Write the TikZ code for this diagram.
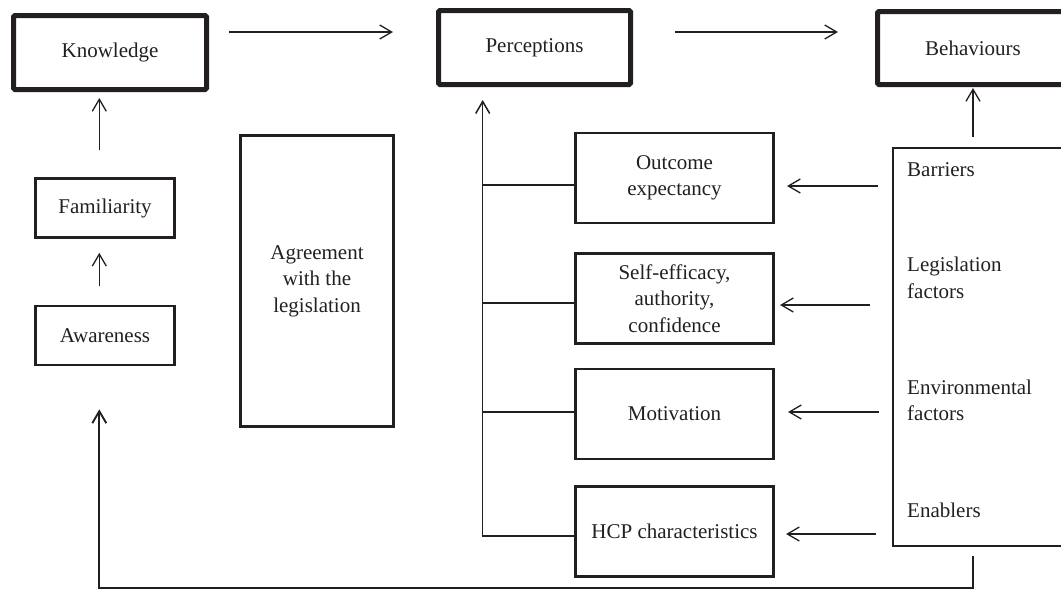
\documentclass[tikz,border=0pt]{standalone}
\usepackage{fontspec}
\setmainfont{Liberation Serif}
\usetikzlibrary{arrows.meta}
\definecolor{ink}{RGB}{35,31,32}
\begin{document}
\begin{tikzpicture}[x=1pt,y=-1pt,
  txt/.style={font=\fontsize{21}{26.5}\selectfont, text=ink, inner sep=0pt},
  lbl/.style={txt, align=left, anchor=west},
  heavybox/.style={draw=ink, txt, align=center, line width=5pt, rounded corners=1.5pt,
    minimum width=193pt, minimum height=74pt},
  thinbox/.style={draw=ink, txt, align=center, line width=2.6pt},
  arr/.style={draw=ink, line width=1.3pt, -{Straight Barb[length=12pt,width=14pt]}},
  tie/.style={draw=ink, line width=1.7pt},
]
\useasboundingbox (0,0) rectangle (1061,590);
\clip (0,0) rectangle (1061,590);

% main boxes
\node[heavybox] (know) at (110,52.5) {Knowledge};
\node[heavybox, minimum width=192pt] (perc) at (534.5,47.5) {Perceptions};
\node[heavybox, minimum width=191pt, minimum height=73pt] (behav) at (973,48) {Behaviours};

% left column
\node[thinbox, minimum width=139pt, minimum height=59pt] (fam) at (105,208) {Familiarity};
\node[thinbox, minimum width=139pt, minimum height=59pt] (aware) at (105,335.5) {Awareness};
\node[thinbox, minimum width=153pt, minimum height=291pt] (agree) at (317,281) {Agreement\\with the\\legislation};

% middle column
\node[thinbox, minimum width=198.5pt, minimum height=90pt] (outc) at (674.5,178) {Outcome\\expectancy};
\node[thinbox, minimum width=198.5pt, minimum height=90pt] (self) at (674.5,298.5) {Self-efficacy,\\authority,\\confidence};
\node[thinbox, minimum width=198.5pt, minimum height=90pt] (motiv) at (674.5,414) {Motivation};
\node[thinbox, minimum width=198.5pt, minimum height=90pt] (hcp) at (674.5,531.5) {HCP characteristics};

% right box with factors
\node[thinbox, minimum width=174pt, minimum height=398pt] (bf) at (980,347) {};
\node[lbl] (lbar) at (907,169.5) {Barriers};
\node[lbl] (lleg) at (907,277.8) {Legislation\\factors};
\node[lbl] (lenv) at (907,400.3) {Environmental\\factors};
\node[lbl] (lena) at (907,510.8) {Enablers};

% top row arrows
\draw[arr, shorten <=20pt, shorten >=43pt] (know.east |- 0,32) -- (perc.west |- 0,32);
\draw[arr, shorten <=42pt, shorten >=37pt] (perc.east |- 0,32) -- (behav.west |- 0,32);

% left column arrows
\draw[arr, shorten <=27pt, shorten >=6pt] (99.3,0 |- fam.north) -- (99.3,0 |- know.south);
\draw[arr, shorten <=19pt, shorten >=14pt] (99.3,0 |- aware.north) -- (99.3,0 |- fam.south);

% factors to behaviours
\draw[arr, shorten <=10pt, shorten >=1pt] (973,0 |- bf.north) -- (973,0 |- behav.south);

% factors to middle boxes
\draw[arr, shorten <=14pt, shorten >=12pt] (bf.west |- 0,186) -- (outc.east |- 0,186);
\draw[arr, shorten <=22pt, shorten >=5pt] (bf.west |- 0,305) -- (self.east |- 0,305);
\draw[arr, shorten <=13pt, shorten >=13pt] (bf.west |- 0,412) -- (motiv.east |- 0,412);
\draw[arr, shorten <=16pt, shorten >=11pt] (bf.west |- 0,534) -- (hcp.east |- 0,534);

% trunk into perceptions
\coordinate (trunk) at (482.7,536);
\draw[arr, line width=1.5pt, shorten >=13pt] (trunk) -- (trunk |- perc.south);
\draw[tie] (trunk |- 0,185) -- (outc.west |- 0,185);
\draw[tie] (trunk |- 0,302.7) -- (self.west |- 0,302.7);
\draw[tie] (trunk |- 0,411.7) -- (motiv.west |- 0,411.7);
\draw[tie] ([xshift=-1pt]trunk) -- (hcp.west |- trunk);

% feedback loop
\draw[arr, line width=1.9pt, shorten <=9pt, shorten >=43pt]
  (973,0 |- bf.south) -- (973,588) -| (99.3,0 |- aware.south);
\end{tikzpicture}
\end{document}
